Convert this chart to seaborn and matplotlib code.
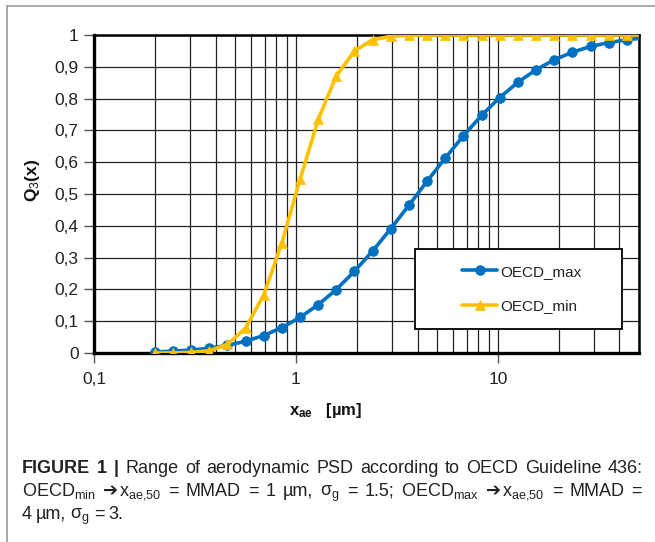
import numpy as np
import pandas as pd
import seaborn as sns
import matplotlib
matplotlib.use("Agg")
import matplotlib.pyplot as plt
from matplotlib.patches import Rectangle
from matplotlib.lines import Line2D
from matplotlib.ticker import LogLocator, FixedLocator, NullFormatter

# ---------------- data ----------------
x_um = [0.2, 0.246, 0.303, 0.372, 0.458, 0.563, 0.693, 0.852, 1.048, 1.29,
        1.58, 1.95, 2.4, 2.95, 3.63, 4.46, 5.49, 6.75, 8.3, 10.2,
        12.6, 15.5, 19.0, 23.4, 28.8, 35.4, 43.6, 53.5]
oecd_max = [0.003, 0.006, 0.009, 0.015, 0.024, 0.037, 0.055, 0.080, 0.112, 0.152,
            0.199, 0.257, 0.321, 0.391, 0.465, 0.540, 0.613, 0.683, 0.747, 0.803,
            0.852, 0.891, 0.922, 0.946, 0.964, 0.976, 0.985, 0.991]
oecd_min = [0.000, 0.000, 0.002, 0.007, 0.027, 0.078, 0.183, 0.346, 0.546, 0.735,
            0.870, 0.950, 0.985, 0.996, 0.999, 1.000, 1.000, 1.000, 1.000, 1.000,
            1.000, 1.000, 1.000, 1.000, 1.000, 1.000, 1.000, 1.000]
series_names = ["OECD_max", "OECD_min"]
y_ticks = [0, 0.1, 0.2, 0.3, 0.4, 0.5, 0.6, 0.7, 0.8, 0.9, 1.0]
y_tick_labels = ["0", "0,1", "0,2", "0,3", "0,4", "0,5", "0,6", "0,7", "0,8", "0,9", "1"]
x_ticks = [0.1, 1, 10]
x_tick_labels = ["0,1", "1", "10"]
x_label = r"x$_{\mathbf{ae}}$   [µm]"
y_label = r"Q$_3$(x)"

ARROW = "➔"
# caption: each line is a list of words, each word a list of (text, style) segments
caption_line1 = ([[("FIGURE", "b")], [("1", "b")], [("|", "b")]] +
                 [[(w, "r")] for w in "Range of aerodynamic PSD according to OECD Guideline 436:".split()])
caption_line2 = [[(r"OECD$_{\mathrm{min}}$", "r")], [(ARROW, "a"), (r"x$_{\mathrm{ae{,}50}}$", "r")],
                 [("=", "r")], [("MMAD", "r")], [("=", "r")], [("1", "r")], [("µm,", "r")],
                 [(r"σ$_{\mathrm{g}}$", "r")], [("=", "r")], [("1.5;", "r")],
                 [(r"OECD$_{\mathrm{max}}$", "r")], [(ARROW, "a"), (r"x$_{\mathrm{ae{,}50}}$", "r")],
                 [("=", "r")], [("MMAD", "r")], [("=", "r")]]
caption_line3 = [[("4", "r")], [("µm,", "r")], [(r"σ$_{\mathrm{g}}$", "r")], [("=", "r")], [("3.", "r")]]

# ---------------- style ----------------
sns.set_theme(style="white")
plt.rcParams["font.family"] = ["Liberation Sans", "DejaVu Sans"]
plt.rcParams["mathtext.fontset"] = "custom"
plt.rcParams["mathtext.rm"] = "Liberation Sans"
plt.rcParams["mathtext.it"] = "Liberation Sans:italic"
plt.rcParams["mathtext.bf"] = "Liberation Sans:bold"

W, H = 655, 542
fig = plt.figure(figsize=(W / 100, H / 100), dpi=100)
fig.patch.set_facecolor("white")


def fx(px):
    return px / W


def fy(py):
    return 1 - py / H


ax = fig.add_axes([fx(94), fy(353), fx(639) - fx(94), fy(35) - fy(353)])

df = pd.DataFrame({"x": x_um * 2,
                   "Q3": oecd_max + oecd_min,
                   "series": [series_names[0]] * len(x_um) + [series_names[1]] * len(x_um)})

blue = "#0070C0"
yellow = "#FFC000"
sns.lineplot(data=df[df.series == series_names[0]], x="x", y="Q3", ax=ax,
             color=blue, linewidth=2.6, marker="o", markersize=7,
             markeredgecolor=blue, markeredgewidth=0.5, label=series_names[0], zorder=3)
sns.lineplot(data=df[df.series == series_names[1]], x="x", y="Q3", ax=ax,
             color=yellow, linewidth=2.6, marker="^", markersize=7.5,
             markeredgecolor=yellow, markeredgewidth=0.5, label=series_names[1], zorder=3)

ax.set_xscale("log")
ax.set_xlim(0.1, 50)
ax.set_ylim(0, 1)

ax.xaxis.set_major_locator(FixedLocator(x_ticks))
ax.set_xticklabels(x_tick_labels)
ax.xaxis.set_minor_locator(LogLocator(base=10, subs=np.arange(2, 10)))
ax.xaxis.set_minor_formatter(NullFormatter())
ax.set_yticks(y_ticks)
ax.set_yticklabels(y_tick_labels)

ax.set_axisbelow(True)
ax.grid(which="both", axis="x", color="#222222", linewidth=0.9)
ax.grid(which="major", axis="y", color="#222222", linewidth=0.9)

ax.tick_params(axis="both", which="major", direction="out", length=7, width=1.0,
               color="#555555", labelsize=12.5, pad=4, labelcolor="#222222")
ax.tick_params(axis="x", which="major", pad=7)
ax.tick_params(axis="x", which="minor", length=0)
ax.tick_params(left=True, bottom=True)

for side in ["left", "bottom"]:
    ax.spines[side].set_linewidth(2.4)
    ax.spines[side].set_color("black")
for side in ["top", "right"]:
    ax.spines[side].set_linewidth(1.8)
    ax.spines[side].set_color("black")

ax.set_xlabel("")
ax.set_ylabel("")
fig.text(fx(326), fy(410), x_label, ha="center", va="center",
         fontsize=12, fontweight="bold", color="#111111")
fig.text(fx(33), fy(180), y_label, ha="center", va="center", rotation=90,
         fontsize=12.5, fontweight="bold", color="#111111")

# legend box
handles, labels = ax.get_legend_handles_labels()
if ax.legend_:
    ax.legend_.remove()
box = Rectangle((fx(415), fy(329)), fx(622) - fx(415), fy(249) - fy(329),
                transform=fig.transFigure, facecolor="white", edgecolor="black",
                linewidth=1.3, zorder=4)
ax.add_patch(box)
leg = ax.legend(handles, labels, loc="center left",
                bbox_to_anchor=(fx(462), fy(289)), bbox_transform=fig.transFigure,
                frameon=False, fontsize=11, handlelength=2.3, handletextpad=0.2,
                labelspacing=1.35, borderpad=0, borderaxespad=0)
leg.set_zorder(5)
for t in leg.get_texts():
    t.set_color("#222222")

# figure frame (gray, left and top)
fig.add_artist(Line2D([fx(7), fx(7)], [fy(6), 0], transform=fig.transFigure,
                      color="#999999", linewidth=1.2))
fig.add_artist(Line2D([fx(7), 1], [fy(6), fy(6)], transform=fig.transFigure,
                      color="#999999", linewidth=1.2))

# caption (justified lines built word by word)
cap_size = 13
cap_color = "#222222"
renderer = fig.canvas.get_renderer()


def make_seg(text, style, y):
    kw = dict(fontsize=cap_size, color=cap_color, va="baseline", ha="left")
    if style == "b":
        kw["fontweight"] = "bold"
    if style == "a":
        kw["family"] = ["DejaVu Sans"]
        kw["fontsize"] = cap_size * 1.0
        kw["fontweight"] = "bold"
    return fig.text(0, y, text, **kw)


def draw_line(words, x0, x1, ybase, justify=True, space_px=4.0):
    y = fy(ybase)
    placed = []
    for word in words:
        segs = []
        for text, style in word:
            t = make_seg(text, style, y)
            w = t.get_window_extent(renderer=renderer).width
            segs.append((t, w))
        placed.append(segs)
    widths = [sum(w for _, w in segs) + 1.0 * (len(segs) - 1) for segs in placed]
    gaps = len(words) - 1
    if justify and gaps > 0:
        gap = (x1 - x0 - sum(widths)) / gaps
    else:
        gap = space_px
    x = x0
    for segs, wtot in zip(placed, widths):
        xs = x
        for t, w in segs:
            t.set_x(fx(xs))
            xs += w + 1.0
        x += wtot + gap


draw_line(caption_line1, 22, 643, 473)
draw_line(caption_line2, 22, 642, 496)
draw_line(caption_line3, 22, 130, 519, justify=False, space_px=4.0)

fig.savefig("out.png", dpi=100, facecolor="white")
